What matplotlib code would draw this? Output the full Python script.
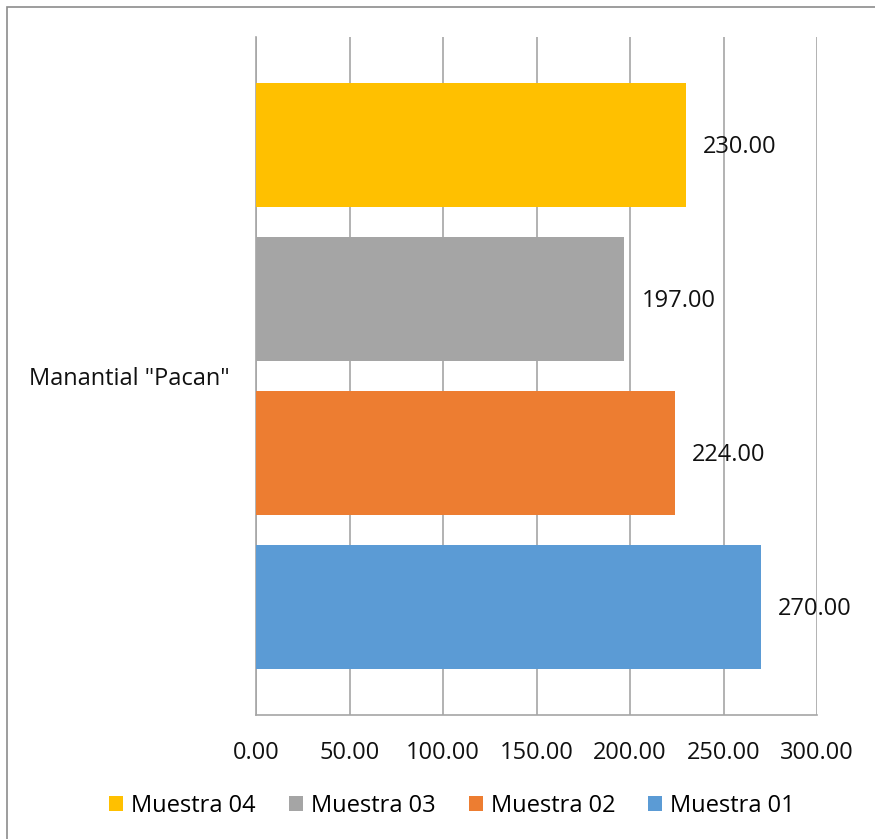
import matplotlib
matplotlib.use("Agg")
import matplotlib.pyplot as plt
from matplotlib.patches import Patch, Rectangle
from matplotlib.ticker import FormatStrFormatter

# Data
category = 'Manantial "Pacan"'
series_names = ["Muestra 01", "Muestra 02", "Muestra 03", "Muestra 04"]
series_values = [270.00, 224.00, 197.00, 230.00]
series_colors = ["#5B9BD5", "#ED7D31", "#A5A5A5", "#FFC000"]
x_ticks = [0, 50, 100, 150, 200, 250, 300]

FONT = "Open Sans"
W, H = 875, 839
fig = plt.figure(figsize=(W / 100, H / 100), dpi=100)

# Outer chart frame (runs off the right and bottom edges)
fig.patches.append(Rectangle((7 / W, -0.1), 1.2, (H - 7) / H + 0.1,
                             transform=fig.transFigure, fill=False,
                             edgecolor="#8c8c8c", linewidth=1.2))

ax = fig.add_axes([256 / W, 1 - 715 / H, (817 - 256) / W, (715 - 37) / H])

grid_c = "#a6a6a6"
positions = list(range(len(series_values)))
ax.barh(positions, series_values, height=0.805, color=series_colors, zorder=3)

for pos, val in zip(positions, series_values):
    ax.annotate(f"{val:.2f}", xy=(val, pos), xytext=(17, -2), textcoords="offset pixels",
                ha="left", va="center", fontsize=17, family=FONT,
                color="#111111", zorder=4)

ax.set_xlim(0, 300)
ax.set_ylim(-0.70, 3.70)
ax.set_xticks(x_ticks)
ax.xaxis.set_major_formatter(FormatStrFormatter("%.2f"))
ax.set_yticks([1.5])
ax.set_yticklabels([category])
ax.tick_params(axis="x", length=0, pad=19, labelsize=17, labelcolor="#111111")
ax.tick_params(axis="y", length=0, pad=19, labelsize=17, labelcolor="#111111")
for lab in ax.get_xticklabels() + ax.get_yticklabels():
    lab.set_family(FONT)

ax.grid(axis="x", color=grid_c, linewidth=1.2, zorder=0)
for side in ("top", "right"):
    ax.spines[side].set_visible(False)
for side in ("left", "bottom"):
    ax.spines[side].set_color(grid_c)
    ax.spines[side].set_linewidth(1.2)

handles = [Patch(facecolor=c, edgecolor="none") for c in series_colors[::-1]]
fig.legend(handles, series_names[::-1], ncol=4, loc="center",
           bbox_to_anchor=(452 / W, 1 - 806 / H), frameon=False,
           handlelength=0.6, handleheight=0.6, handletextpad=0.34,
           columnspacing=1.4, borderpad=0.2,
           prop={"family": FONT, "size": 17})

fig.savefig("out.png", dpi=100)
